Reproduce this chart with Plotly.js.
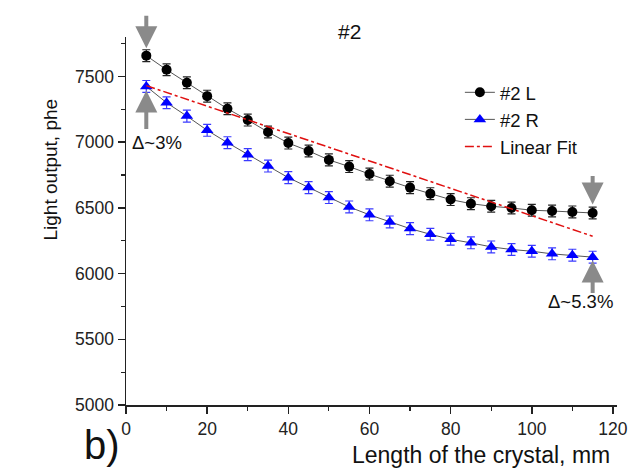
<!DOCTYPE html>
<html>
<head>
<meta charset="utf-8">
<script src="https://cdn.plot.ly/plotly-3.0.1.min.js"></script>
<style>html,body{margin:0;padding:0;background:#fff;}#chart{width:630px;height:472px;}</style>
</head>
<body>
<div id="chart"></div>
<script>
const lengthMM = [5,10,15,20,25,30,35,40,45,50,55,60,65,70,75,80,85,90,95,100,105,110,115];
const lightL = [7658,7551,7452,7350,7254,7168,7077,6993,6933,6865,6814,6757,6703,6654,6608,6563,6532,6512,6499,6482,6476,6469,6461];
const lightR = [7424,7300,7198,7090,6996,6905,6818,6730,6654,6578,6507,6447,6393,6342,6299,6261,6234,6203,6183,6170,6150,6140,6125];
const errL = 45;
const errR = 45;
const fitX = [5,115];
const fitY = [7430,6284];

const font = 'Liberation Sans, Arial, sans-serif';

const traces = [
  {x: lengthMM, y: lightL, name: '#2 L', type: 'scatter', mode: 'lines+markers',
   line: {color: '#555', width: 1}, marker: {symbol: 'circle', size: 10, color: '#000'},
   error_y: {type: 'constant', value: errL, color: '#222', thickness: 1.2, width: 4}},
  {x: lengthMM, y: lightR, name: '#2 R', type: 'scatter', mode: 'lines+markers',
   line: {color: '#555', width: 1}, marker: {symbol: 'triangle-up', size: 11, color: '#0000ff'},
   error_y: {type: 'constant', value: errR, color: '#3a3aff', thickness: 1.2, width: 4}},
  {x: fitX, y: fitY, name: 'Linear Fit', type: 'scatter', mode: 'lines',
   line: {color: '#e01010', width: 1.5, dash: 'dashdot'}}
];

const arrowStyle = {text: '', showarrow: true, arrowhead: 2, arrowsize: 1.1, arrowwidth: 4, arrowcolor: '#8a8a8a', axref: 'pixel', ayref: 'pixel'};

const layout = {
  width: 630, height: 472,
  margin: {l: 126, r: 13, t: 37, b: 67},
  paper_bgcolor: '#fff', plot_bgcolor: '#fff',
  font: {family: font, color: '#111', size: 17},
  showlegend: true,
  legend: {x: 0.68, y: 0.9, xanchor: 'left', yanchor: 'top', bgcolor: 'rgba(0,0,0,0)',
           font: {size: 18.5, family: font, color: '#111'}, tracegroupgap: 0},
  xaxis: {range: [0, 121], showgrid: false, zeroline: false, showline: true, linecolor: '#222', linewidth: 1.5,
          ticks: 'outside', tickcolor: '#222', ticklen: 7, tickwidth: 1.5, dtick: 20, tick0: 0,
          tickfont: {size: 17.5, family: font, color: '#222'},
          minor: {dtick: 10, ticks: 'outside', ticklen: 4, tickcolor: '#222', tickwidth: 1.2}},
  yaxis: {range: [5000, 7800], showgrid: false, zeroline: false, showline: true, linecolor: '#222', linewidth: 1.5,
          ticks: 'outside', tickcolor: '#222', ticklen: 7, tickwidth: 1.5, dtick: 500, tick0: 5000,
          tickfont: {size: 17.5, family: font, color: '#222'},
          minor: {dtick: 250, ticks: 'outside', ticklen: 4, tickcolor: '#222', tickwidth: 1.2}},
  annotations: [
    {text: '#2', xref: 'paper', yref: 'paper', x: 0.455, y: 1.0, yanchor: 'bottom', xanchor: 'center', showarrow: false,
     font: {size: 21, family: font, color: '#111'}, yshift: -8},
    {text: 'Length of the crystal, mm', xref: 'paper', yref: 'paper', x: 0.99, y: 0, xanchor: 'right', yanchor: 'top',
     yshift: -35, showarrow: false, font: {size: 23, family: font, color: '#111'}},
    {text: 'Light output, phe', xref: 'paper', yref: 'paper', x: 0, y: 0.64, textangle: -90, xanchor: 'center', yanchor: 'middle',
     xshift: -76, showarrow: false, font: {size: 19, family: font, color: '#111'}},
    {text: 'b)', xref: 'paper', yref: 'paper', x: 0, y: 0, xanchor: 'center', yanchor: 'top', xshift: -24, yshift: -16,
     showarrow: false, font: {size: 40, family: font, color: '#111'}},
    {text: 'Δ~3%', xref: 'x', yref: 'y', x: 1.0, y: 7000, xanchor: 'left', yanchor: 'middle', showarrow: false,
     font: {size: 18.5, family: font, color: '#111'}},
    {text: 'Δ~5.3%', xref: 'x', yref: 'y', x: 112, y: 5790, xanchor: 'center', yanchor: 'middle', showarrow: false,
     font: {size: 18.5, family: font, color: '#111'}},
    Object.assign({xref: 'x', yref: 'y', x: 5, y: 7715, ax: 0, ay: -34}, arrowStyle),
    Object.assign({xref: 'x', yref: 'y', x: 5, y: 7392, ax: 0, ay: 40}, arrowStyle),
    Object.assign({xref: 'x', yref: 'y', x: 115, y: 6525, ax: 0, ay: -30}, arrowStyle),
    Object.assign({xref: 'x', yref: 'y', x: 115, y: 6100, ax: 0, ay: 34}, arrowStyle)
  ]
};

Plotly.newPlot('chart', traces, layout, {displayModeBar: false, staticPlot: true});
</script>
</body>
</html>
